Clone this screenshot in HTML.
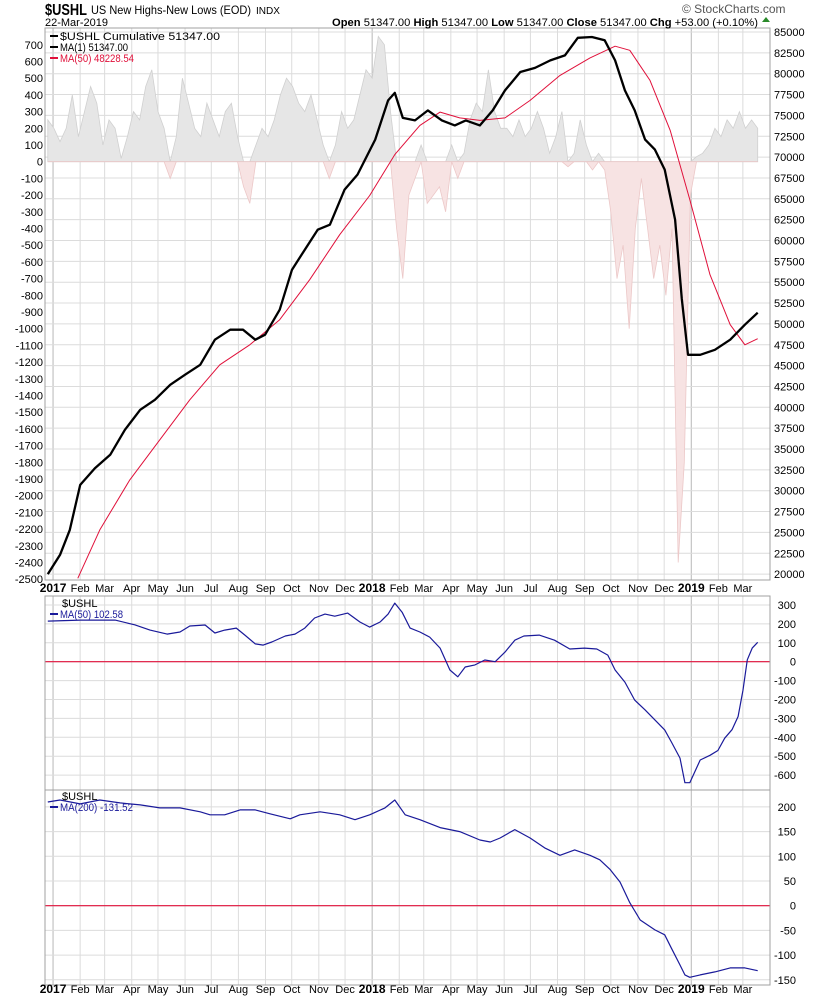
<!DOCTYPE html>
<html><head><meta charset="utf-8"><style>
html,body{margin:0;padding:0;background:#fff;}
svg text{font-family:"Liberation Sans",sans-serif;}
</style></head><body>
<svg id="chart" width="820" height="1000" xmlns="http://www.w3.org/2000/svg"></svg>
<script>
// ---- data (x in weeks from 2016-12-26) ----
const histVals=[250,200,120,200,400,150,300,450,350,100,250,200,20,150,300,250,450,550,300,200,-100,150,500,350,200,150,350,250,150,300,350,150,-150,-250,100,200,150,250,400,500,450,350,300,400,250,100,-100,100,300,200,250,400,550,500,750,700,300,-400,-700,-200,-100,100,-250,-200,-150,-300,100,-100,50,250,350,300,550,300,200,200,150,250,150,200,300,200,50,150,300,-30,50,250,100,-50,50,-50,-300,-700,-500,-1000,-400,-100,-400,-700,-500,-800,-400,-2400,-1800,-200,30,50,100,200,150,250,200,300,200,250,200];
const cumWeeks=[0,2,3.6,5.3,7.7,10.2,12.6,15.1,17.5,20,22.4,24.9,27.3,29.8,31.9,33.9,35.5,37.9,39.9,42,44.1,46.1,48.5,50.6,53.5,55.6,56.7,58,60,62.1,64.4,66.5,68.3,70.6,72.7,74.7,77.2,79.6,82.1,84.5,86.6,88.9,91,92.7,94.3,95.9,97.6,99.2,100.8,102.5,103.6,104.6,106.6,109,111.5,113.9,116];
const cumVals=[20000,22300,25300,30700,32700,34300,37300,39700,40900,42700,43900,45100,48100,49300,49300,48100,48700,51700,56500,58900,61300,61900,66100,67900,72100,76800,77700,74700,74400,75600,74400,73800,74400,73800,75600,78000,80200,80700,81600,82200,84300,84400,84000,81600,78000,75600,72100,70900,68500,62500,53000,46300,46300,46900,48100,49900,51347];
const ma50Weeks=[4.9,8.5,13.4,18.3,23.2,28.1,33,37.9,42.8,47.7,52.6,56.7,60.8,64.1,67.3,70.6,74.7,78.8,83.7,88.6,92.7,95.1,98.4,101.7,104.9,108.2,111.5,113.9,116];
const ma50Vals=[19500,25300,31300,36100,40900,45100,47500,50500,55300,60700,65400,70300,73800,75400,74700,74400,74700,76800,79800,81900,83300,82800,79200,73200,64900,55900,49900,47500,48228];
const p2Weeks=[0,5.3,11,14.2,16.7,19.5,21.6,23.2,25.7,27.3,28.9,30.8,32.2,33.9,35.2,36.6,38.8,40.4,42,43.6,45.3,46.9,49,51,52.6,54.3,55.6,56.7,57.9,59.2,60.8,62.4,64.1,65.7,67,68.2,69.8,71.4,73.1,74.7,76.3,77.8,80.3,82.8,85.3,87.7,89.7,91.5,92.7,94.3,95.9,97.6,99.2,100.8,101.9,103.3,104.1,104.9,106.6,108.2,109.5,110.6,111.8,112.8,113.6,114.3,115.1,116];
const p2Vals=[215,220,220,195,167,146,157,189,194,152,167,178,141,94,88,104,136,146,178,231,252,241,257,210,183,210,252,310,262,178,157,130,72,-44,-80,-28,-17,9,0,51,114,136,141,114,67,72,67,35,-44,-108,-203,-255,-308,-361,-425,-510,-640,-640,-520,-495,-470,-405,-360,-290,-150,10,72,102.58];
const p3Weeks=[0,2,5.3,8.5,11.8,15.1,18.3,21.6,24.9,26.5,28.9,31.4,33.9,36.3,39.6,41.2,44.5,47.7,50.2,52.6,55.1,56.7,58.4,60.8,64.1,67.3,70.6,72.3,73.9,76.3,78.8,81.2,83.7,86.1,88.6,90.2,91.9,93.5,95.1,96.8,99.2,100.8,101.9,103.3,104.1,104.9,106.6,109,111.5,113.9,116];
const p3Vals=[210,214,206,214,208,204,198,198,190,184,184,194,194,186,176,184,190,184,174,184,198,214,184,174,158,150,133,129,137,154,137,117,102,113,102,93,73,48,6,-29,-49,-59,-86,-120,-140,-145,-140,-134,-126,-126,-131.52];
const leftTicks=[700,600,500,400,300,200,100,0,-100,-200,-300,-400,-500,-600,-700,-800,-900,-1000,-1100,-1200,-1300,-1400,-1500,-1600,-1700,-1800,-1900,-2000,-2100,-2200,-2300,-2400,-2500];
const rightTicks=[85000,82500,80000,77500,75000,72500,70000,67500,65000,62500,60000,57500,55000,52500,50000,47500,45000,42500,40000,37500,35000,32500,30000,27500,25000,22500,20000];
const p2Ticks=[300,200,100,0,-100,-200,-300,-400,-500,-600];
const p3Ticks=[200,150,100,50,0,-50,-100,-150];
const monthLabels=["Jan","Feb","Mar","Apr","May","Jun","Jul","Aug","Sep","Oct","Nov","Dec"];

const NS="http://www.w3.org/2000/svg";
const svg=document.getElementById('chart');
function el(tag,attrs,parent){const e=document.createElementNS(NS,tag);for(const k in attrs)e.setAttribute(k,attrs[k]);(parent||svg).appendChild(e);return e;}
function txt(s,x,y,attrs,parent){const t=el('text',Object.assign({x:x,y:y,'font-size':11,fill:'#000'},attrs||{}),parent);t.textContent=s;return t;}
const L=45,R=770;
const xs=w=>47.8+w*6.12;
const yLeft=v=>161.7-v*0.167;
const yRight=v=>32+(85000-v)/2500*20.85;
const y2=v=>661.7-v*0.189;
const y3=v=>905.7-v*0.494;
const panels=[[28,580],[596,790],[790,985]];

const defs=el('defs',{});
panels.forEach((p,i)=>{const c=el('clipPath',{id:'clip'+i},defs);el('rect',{x:L,y:p[0],width:R-L,height:p[1]-p[0]},c);});

const monthX=[];
for(let y=2017;y<=2019;y++)for(let m=0;m<12;m++){
  const d=(Date.UTC(y,m,1)-Date.UTC(2016,11,26))/86400000;
  const x=xs(d/7);
  if(x>L&&x<760)monthX.push({x:x,m:m,y:y});
}
const grid=el('g',{});


panels.forEach(p=>{monthX.forEach(mx=>{el('line',{x1:mx.x,x2:mx.x,y1:p[0],y2:p[1],stroke:mx.m===0?'#b8b8b8':'#dcdcdc','stroke-width':1},grid);});});
rightTicks.forEach(v=>el('line',{x1:L,x2:R,y1:yRight(v),y2:yRight(v),stroke:'#dcdcdc'},grid));
p2Ticks.forEach(v=>el('line',{x1:L,x2:R,y1:y2(v),y2:y2(v),stroke:'#dcdcdc'},grid));
p3Ticks.forEach(v=>el('line',{x1:L,x2:R,y1:y3(v),y2:y3(v),stroke:'#dcdcdc'},grid));

const hg=el('g',{'clip-path':'url(#clip0)'});


function areaPath(sign){let d='M'+xs(0)+','+yLeft(0);histVals.forEach((v,i)=>{const vv=sign>0?Math.max(v,0):Math.min(v,0);d+='L'+xs(i).toFixed(1)+','+yLeft(vv).toFixed(1);});d+='L'+xs(histVals.length-1)+','+yLeft(0)+'Z';return d;}
const hp=el('path',{d:areaPath(1),fill:'#e6e6e6',stroke:'#d0d0d0','stroke-width':0.8},hg);

const hn=el('path',{d:areaPath(-1),fill:'#f7e3e3',stroke:'#ecc8c8','stroke-width':0.8},hg);


function line(ws,vs,yf,color,width,clip,name){let d='';ws.forEach((w,i)=>{d+=(i?'L':'M')+xs(w).toFixed(1)+','+yf(vs[i]).toFixed(1);});const p=el('path',{d:d,fill:'none',stroke:color,'stroke-width':width,'stroke-linejoin':'round','clip-path':'url(#'+clip+')'});return p;}
line(ma50Weeks,ma50Vals,yRight,'#e0103a',1,'clip0','ma50-line');
line(cumWeeks,cumVals,yRight,'#000',2.3,'clip0','cumulative-line');

el('line',{x1:L,x2:R,y1:y2(0),y2:y2(0),stroke:'#e0103a','stroke-width':1.2});
el('line',{x1:L,x2:R,y1:y3(0),y2:y3(0),stroke:'#e0103a','stroke-width':1.2});
line(p2Weeks,p2Vals,y2,'#1a1a9a',1.2,'clip1','ma50-breadth-line');
line(p3Weeks,p3Vals,y3,'#1a1a9a',1.2,'clip2','ma200-breadth-line');

panels.forEach(p=>{const r=el('rect',{x:L,y:p[0],width:R-L,height:p[1]-p[0],fill:'none',stroke:'#a0a0a0'});});

leftTicks.forEach(v=>txt(String(v),43,yLeft(v)+4,{'text-anchor':'end'}));
rightTicks.forEach(v=>txt(String(v),774,yRight(v)+4));
p2Ticks.forEach(v=>txt(String(v),796,y2(v)+4,{'text-anchor':'end'}));
p3Ticks.forEach(v=>txt(String(v),796,y3(v)+4,{'text-anchor':'end'}));
[592,993].forEach(yy=>{monthX.forEach(mx=>{
  if(mx.m===0)txt(String(mx.y),mx.x,yy,{'text-anchor':'middle','font-weight':'bold','font-size':12});
  else txt(monthLabels[mx.m],mx.x,yy,{'text-anchor':'middle'});
});});
</script>
<svg width="820" height="1000" style="position:absolute;left:0;top:0" xmlns="http://www.w3.org/2000/svg" font-family="Liberation Sans, sans-serif">
<g>
<text x="45" y="15" font-size="16" font-weight="bold" textLength="42" lengthAdjust="spacingAndGlyphs">$USHL</text>
<text x="91" y="14" font-size="12" textLength="160" lengthAdjust="spacingAndGlyphs">US New Highs-New Lows (EOD)</text>
<text x="256" y="14" font-size="10" textLength="24" lengthAdjust="spacingAndGlyphs">INDX</text>
<text x="45" y="26" font-size="11">22-Mar-2019</text>
<text x="332" y="26" font-size="11" textLength="426" lengthAdjust="spacingAndGlyphs"><tspan font-weight="bold">Open</tspan> 51347.00  <tspan font-weight="bold">High</tspan> 51347.00  <tspan font-weight="bold">Low</tspan> 51347.00  <tspan font-weight="bold">Close</tspan> 51347.00  <tspan font-weight="bold">Chg</tspan> +53.00 (+0.10%)</text>
<polygon points="762,22 770,22 766,17" fill="#2a8a2a"/>
<text x="682" y="13" font-size="12" fill="#555">© StockCharts.com</text>
</g>
<g>
<line x1="50" y1="36" x2="58" y2="36" stroke="#000" stroke-width="2"/><text x="60" y="40" font-size="11" textLength="160" lengthAdjust="spacingAndGlyphs">$USHL Cumulative 51347.00</text>
<line x1="50" y1="47" x2="58" y2="47" stroke="#000" stroke-width="2"/><text x="60" y="51" font-size="11" textLength="68" lengthAdjust="spacingAndGlyphs">MA(1) 51347.00</text>
<line x1="50" y1="58" x2="58" y2="58" stroke="#e0103a" stroke-width="2"/><text x="60" y="62" font-size="11" fill="#e0103a" textLength="74" lengthAdjust="spacingAndGlyphs">MA(50) 48228.54</text>
</g>
<g>
<text x="62" y="607" font-size="11">$USHL</text>
<line x1="50" y1="614" x2="58" y2="614" stroke="#1a1a9a" stroke-width="2"/><text x="60" y="618" font-size="11" fill="#1a1a9a" textLength="63" lengthAdjust="spacingAndGlyphs">MA(50) 102.58</text>
</g>
<g>
<text x="62" y="800" font-size="11">$USHL</text>
<line x1="50" y1="807" x2="58" y2="807" stroke="#1a1a9a" stroke-width="2"/><text x="60" y="811" font-size="11" fill="#1a1a9a" textLength="73" lengthAdjust="spacingAndGlyphs">MA(200) -131.52</text>
</g>
</svg>
</body></html>
